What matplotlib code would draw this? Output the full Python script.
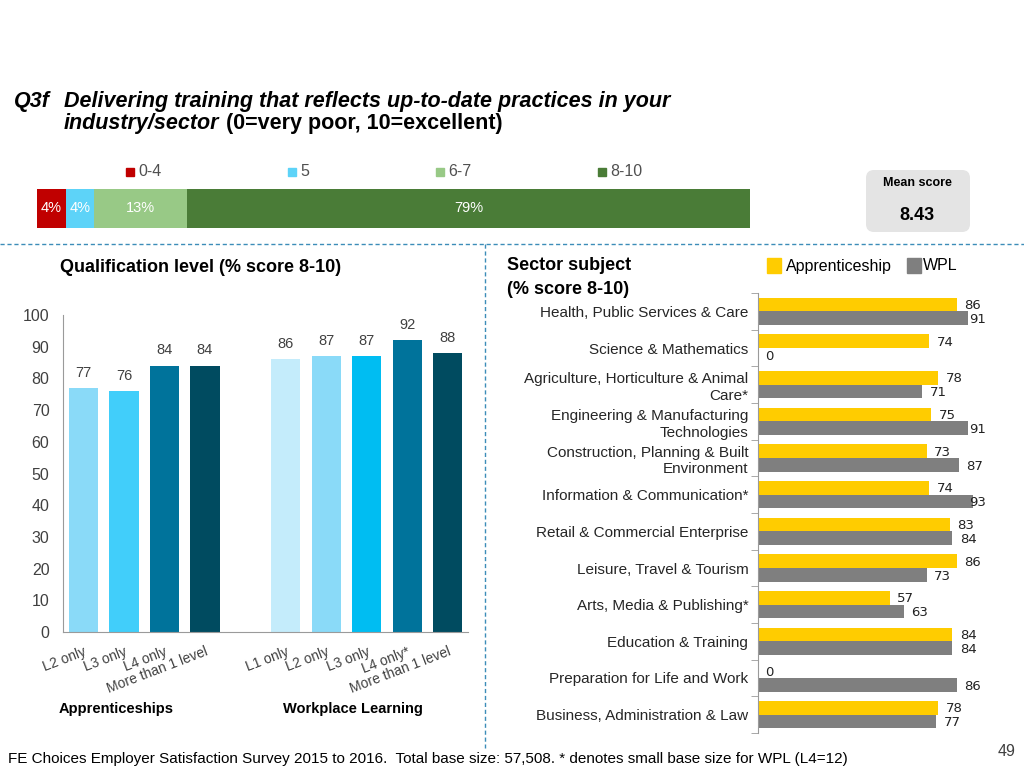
import numpy as np
import matplotlib.pyplot as plt
from matplotlib.patches import FancyBboxPatch, Rectangle

plt.rcParams['font.family'] = ['Liberation Sans', 'DejaVu Sans']

# DATA
dist_labels = ['0-4', '5', '6-7', '8-10']
dist_values = [4, 4, 13, 79]
dist_colors = ['#C00000', '#5DD3F8', '#98C986', '#4A7C37']
mean_score = 8.43

appr_levels = ['L2 only', 'L3 only', 'L4 only', 'More than 1 level']
appr_scores = [77, 76, 84, 84]
wpl_levels = ['L1 only', 'L2 only', 'L3 only', 'L4 only*', 'More than 1 level']
wpl_scores = [86, 87, 87, 92, 88]

sectors = ['Health, Public Services & Care', 'Science & Mathematics',
           'Agriculture, Horticulture & Animal\nCare*',
           'Engineering & Manufacturing\nTechnologies',
           'Construction, Planning & Built\nEnvironment',
           'Information & Communication*', 'Retail & Commercial Enterprise',
           'Leisure, Travel & Tourism', 'Arts, Media & Publishing*',
           'Education & Training', 'Preparation for Life and Work',
           'Business, Administration & Law']
sector_appr = [86, 74, 78, 75, 73, 74, 83, 86, 57, 84, 0, 78]
sector_wpl = [91, 0, 71, 91, 87, 93, 84, 73, 63, 84, 86, 77]

W, H = 1024, 768
fig = plt.figure(figsize=(10.24, 7.68), dpi=100)

def px_axes(x0, y0, x1, y1):
    # axes from pixel box (top-left origin)
    return fig.add_axes([x0 / W, 1 - y1 / H, (x1 - x0) / W, (y1 - y0) / H])

# background axes in pixel coordinates for free text / lines
bg = fig.add_axes([0, 0, 1, 1])
bg.set_xlim(0, W)
bg.set_ylim(H, 0)
bg.axis('off')

# title
bg.text(14, 102, 'Q3f', fontsize=15.5, fontweight='bold', fontstyle='italic', va='center')
bg.text(64, 102, 'Delivering training that reflects up-to-date practices in your',
        fontsize=15.5, fontweight='bold', fontstyle='italic', va='center')
t1 = bg.text(64, 134, 'industry/sector', fontsize=15.5, fontweight='bold',
             fontstyle='italic', va='bottom')
bg.annotate(' (0=very poor, 10=excellent)', xy=(1, 0), xycoords=t1,
            fontsize=15.5, fontweight='bold', va='bottom', ha='left')

# dashed separators
bg.plot([0, W], [244, 244], ls=(0, (3, 2)), color='#3C8DB8', lw=1)
bg.plot([485, 485], [244, 748], ls=(0, (3, 2)), color='#3C8DB8', lw=1)

# top distribution bar
ax0 = px_axes(37, 189, 750, 228)
left = 0
for lab, v, c in zip(dist_labels, dist_values, dist_colors):
    ax0.barh(0, v, left=left, height=1, color=c)
    ax0.text(left + v / 2, 0, f'{v}%', color='white', ha='center', va='center', fontsize=10.5)
    left += v
ax0.set_xlim(0, 100)
ax0.set_ylim(-0.5, 0.5)
ax0.axis('off')

leg_x = [126, 288, 436, 598]
for x, lab, c in zip(leg_x, dist_labels, dist_colors):
    bg.add_patch(Rectangle((x, 168), 8, 8, color=c))
    bg.text(x + 12, 172, lab, fontsize=11.5, va='center', color='#505050')

# mean score box
bg.add_patch(FancyBboxPatch((866, 170), 104, 62, boxstyle='round,pad=0,rounding_size=8',
                            facecolor='#E4E4E4', edgecolor='none'))
bg.text(917, 183, 'Mean score', fontsize=9, fontweight='bold', ha='center', va='center')
bg.text(917, 215, f'{mean_score:.2f}', fontsize=13, fontweight='bold', ha='center', va='center')

# qualification level chart
bg.text(60, 268, 'Qualification level (% score 8-10)', fontsize=13, fontweight='bold', va='center')
ax1 = px_axes(63.3, 315, 468, 632)
appr_x = np.arange(len(appr_scores))
wpl_x = np.arange(len(wpl_scores)) + len(appr_scores) + 1
appr_cols = ['#8ADAF8', '#41CEFA', '#00739B', '#004B60']
wpl_cols = ['#C4ECFB', '#8ADAF8', '#00BDF2', '#00739B', '#004B60']
b1 = ax1.bar(appr_x, appr_scores, width=0.72, color=appr_cols)
b2 = ax1.bar(wpl_x, wpl_scores, width=0.72, color=wpl_cols)
for bars in (b1, b2):
    ax1.bar_label(bars, padding=6, fontsize=10.5, color='#404040')
ax1.set_xlim(-0.5, 9.5)
ax1.set_ylim(0, 100)
ax1.set_yticks(np.arange(0, 101, 10))
ax1.tick_params(axis='y', length=0, labelsize=11.5, labelcolor='#404040', pad=10)
ax1.set_xticks(np.concatenate([appr_x, wpl_x]))
ax1.set_xticklabels(appr_levels + wpl_levels, rotation=21, ha='right',
                    rotation_mode='anchor', fontsize=10, color='#404040')
ax1.tick_params(axis='x', length=0, pad=9)
for s in ['top', 'right']:
    ax1.spines[s].set_visible(False)
for s in ['left', 'bottom']:
    ax1.spines[s].set_color('#9A9A9A')
bg.text(116, 709, 'Apprenticeships', fontsize=10.5, fontweight='bold', ha='center', va='center')
bg.text(353, 709, 'Workplace Learning', fontsize=10.5, fontweight='bold', ha='center', va='center')

# sector subject chart
bg.text(507, 265, 'Sector subject', fontsize=13, fontweight='bold', va='center')
bg.text(507, 289, '(% score 8-10)', fontsize=13, fontweight='bold', va='center')
bg.add_patch(Rectangle((767, 258), 14, 15, color='#FFCC00'))
bg.text(786, 266, 'Apprenticeship', fontsize=11.5, va='center')
bg.add_patch(Rectangle((907, 258), 14, 15, color='#7F7F7F'))
bg.text(923, 266, 'WPL', fontsize=11.5, va='center')

ax2 = px_axes(758, 293, 989, 733)
yy = np.arange(len(sectors))
ax2.barh(yy - 0.185, sector_appr, height=0.37, color='#FFCC00')
ax2.barh(yy + 0.185, sector_wpl, height=0.37, color='#7F7F7F')
lab_font = ['DejaVu Sans']
for y, a, w in zip(yy, sector_appr, sector_wpl):
    ax2.text(min(a + 3.3, 91.5), y - 0.16, str(a), va='center', fontsize=9.5,
             family=lab_font, color='#222222')
    ax2.text(min(w + 3.3, 91.5), y + 0.22, str(w), va='center', fontsize=9.5,
             family=lab_font, color='#222222')
ax2.set_xlim(0, 100)
ax2.set_ylim(len(sectors) - 0.5, -0.5)
ax2.set_xticks([])
ax2.set_yticks(yy)
ax2.set_yticklabels(sectors, fontsize=11, color='#262626', ha='right', linespacing=1.25)
ax2.set_yticks(np.arange(len(sectors) + 1) - 0.5, minor=True)
ax2.tick_params(axis='y', which='major', length=0, pad=7)
ax2.tick_params(axis='y', which='minor', length=5, color='#9A9A9A')
for s in ['top', 'right', 'bottom']:
    ax2.spines[s].set_visible(False)
ax2.spines['left'].set_color('#9A9A9A')

# footer
bg.text(8, 759, 'FE Choices Employer Satisfaction Survey 2015 to 2016.  Total base size: 57,508. '
        '* denotes small base size for WPL (L4=12)', fontsize=11, va='center')
bg.text(1016, 751, '49', fontsize=11.5, ha='right', va='center', color='#404040')

fig.savefig('out.png', dpi=100)
